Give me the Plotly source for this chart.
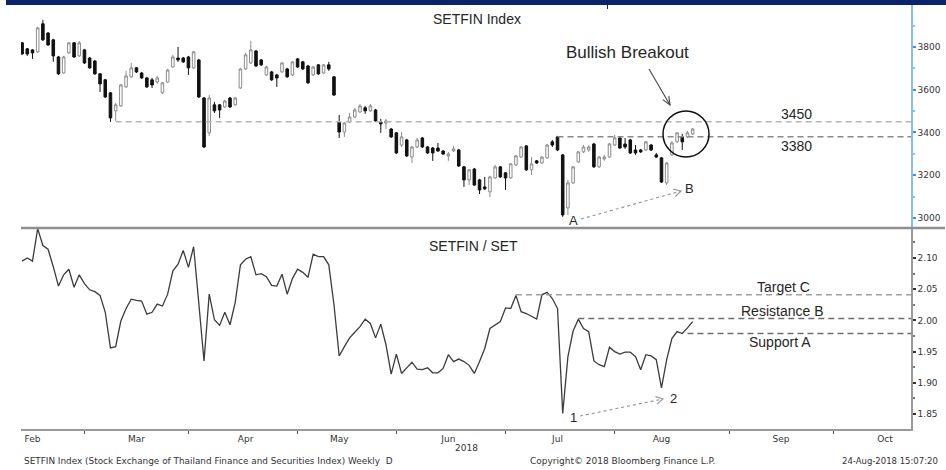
import math
import pandas as pd
import plotly.graph_objects as go

# ---------------- data ----------------
START = "2018-01-30"
HOLIDAYS = ["2018-03-01", "2018-04-06", "2018-04-13", "2018-04-16",
            "2018-05-01", "2018-05-29", "2018-07-27", "2018-07-30"]

OPEN = [3819, 3791, 3786, 3777, 3908, 3865, 3833, 3753, 3678, 3772,
        3819, 3758, 3786, 3748, 3734, 3674, 3646, 3585, 3501, 3524,
        3613, 3660, 3702, 3678, 3655, 3646, 3636, 3585, 3636, 3706,
        3748, 3748, 3753, 3702, 3739, 3561, 3398, 3529, 3529, 3519,
        3561, 3529, 3608, 3697, 3725, 3781, 3739, 3669, 3683, 3669,
        3683, 3697, 3669, 3744, 3730, 3711, 3669, 3716, 3678, 3716,
        3660, 3449, 3402, 3449, 3472, 3496, 3515, 3501, 3505, 3449,
        3444, 3416, 3398, 3341, 3365, 3285, 3332, 3374, 3332, 3327,
        3327, 3313, 3290, 3313, 3318, 3239, 3178, 3229, 3178, 3145,
        3122, 3187, 3239, 3211, 3187, 3248, 3285, 3337, 3225, 3267,
        3257, 3281, 3356, 3379, 3295, 3047, 3164, 3262, 3309, 3318,
        3346, 3239, 3276, 3285, 3341, 3374, 3346, 3365, 3318, 3318,
        3318, 3341, 3295, 3281, 3164, 3295, 3356, 3379, 3379, 3393]
HIGH = [3823, 3795, 3790, 3894, 3926, 3870, 3838, 3758, 3758, 3823,
        3823, 3828, 3791, 3753, 3739, 3678, 3650, 3589, 3538, 3627,
        3688, 3725, 3706, 3683, 3660, 3655, 3664, 3636, 3697, 3763,
        3800, 3753, 3758, 3781, 3744, 3566, 3575, 3543, 3533, 3552,
        3566, 3566, 3702, 3772, 3828, 3786, 3744, 3711, 3688, 3674,
        3730, 3702, 3734, 3748, 3734, 3716, 3711, 3720, 3720, 3730,
        3664, 3482, 3449, 3491, 3515, 3533, 3524, 3533, 3510, 3463,
        3463, 3421, 3402, 3402, 3370, 3337, 3374, 3379, 3337, 3332,
        3351, 3318, 3309, 3337, 3323, 3243, 3229, 3234, 3183, 3192,
        3197, 3248, 3243, 3215, 3257, 3295, 3337, 3341, 3285, 3271,
        3290, 3346, 3365, 3384, 3299, 3178, 3243, 3313, 3341, 3341,
        3351, 3290, 3295, 3351, 3388, 3379, 3374, 3370, 3341, 3323,
        3360, 3346, 3304, 3285, 3262, 3360, 3402, 3393, 3407, 3421]
LOW = [3763, 3758, 3744, 3772, 3828, 3805, 3730, 3669, 3674, 3767,
       3748, 3753, 3720, 3697, 3669, 3589, 3561, 3449, 3454, 3519,
       3608, 3655, 3678, 3650, 3608, 3608, 3627, 3580, 3632, 3702,
       3730, 3725, 3669, 3697, 3561, 3327, 3384, 3491, 3468, 3515,
       3515, 3524, 3603, 3692, 3720, 3706, 3711, 3664, 3641, 3613,
       3678, 3655, 3664, 3702, 3692, 3627, 3664, 3669, 3674, 3688,
       3571, 3374, 3379, 3444, 3468, 3491, 3487, 3496, 3449, 3398,
       3416, 3374, 3299, 3332, 3285, 3257, 3327, 3327, 3299, 3267,
       3309, 3295, 3267, 3309, 3239, 3145, 3154, 3150, 3112, 3131,
       3098, 3183, 3187, 3131, 3183, 3243, 3281, 3220, 3201, 3253,
       3253, 3276, 3332, 3313, 3005, 3014, 3159, 3257, 3304, 3309,
       3234, 3234, 3267, 3281, 3337, 3323, 3323, 3299, 3295, 3304,
       3313, 3313, 3281, 3164, 3154, 3290, 3351, 3318, 3374, 3388]
CLOSE = [3767, 3767, 3772, 3889, 3833, 3809, 3758, 3674, 3753, 3819,
         3753, 3819, 3725, 3702, 3674, 3627, 3566, 3468, 3529, 3622,
         3664, 3702, 3683, 3655, 3613, 3622, 3655, 3632, 3692, 3753,
         3739, 3730, 3702, 3777, 3566, 3332, 3561, 3501, 3505, 3547,
         3519, 3561, 3697, 3763, 3786, 3711, 3716, 3706, 3646, 3655,
         3725, 3660, 3730, 3706, 3697, 3632, 3706, 3674, 3716, 3697,
         3575, 3402, 3444, 3472, 3505, 3524, 3501, 3524, 3454, 3440,
         3454, 3379, 3304, 3379, 3290, 3332, 3365, 3332, 3304, 3304,
         3313, 3299, 3299, 3323, 3243, 3178, 3225, 3154, 3131, 3136,
         3192, 3239, 3192, 3187, 3253, 3290, 3332, 3225, 3253, 3257,
         3285, 3341, 3341, 3318, 3014, 3164, 3239, 3309, 3332, 3332,
         3239, 3285, 3285, 3346, 3374, 3327, 3332, 3304, 3304, 3309,
         3356, 3318, 3285, 3168, 3257, 3351, 3398, 3356, 3398, 3416]
RATIO = [2.095, 2.100, 2.095, 2.147, 2.120, 2.114, 2.086, 2.055, 2.073, 2.082,
         2.053, 2.073, 2.059, 2.049, 2.046, 2.040, 2.013, 1.956, 1.958, 1.999,
         2.019, 2.034, 2.032, 2.031, 2.010, 2.013, 2.026, 2.023, 2.042, 2.079,
         2.090, 2.112, 2.085, 2.118, 2.027, 1.935, 2.042, 2.001, 1.992, 2.013,
         1.993, 2.029, 2.089, 2.098, 2.102, 2.073, 2.075, 2.070, 2.056, 2.055,
         2.074, 2.042, 2.067, 2.082, 2.077, 2.069, 2.106, 2.102, 2.102, 2.089,
         2.025, 1.943, 1.958, 1.972, 1.981, 1.990, 2.002, 1.995, 1.972, 1.994,
         1.961, 1.914, 1.946, 1.915, 1.924, 1.933, 1.922, 1.921, 1.924, 1.916,
         1.916, 1.923, 1.945, 1.934, 1.938, 1.934, 1.928, 1.915, 1.934, 1.955,
         1.987, 1.993, 1.998, 2.020, 2.019, 2.040, 2.014, 2.011, 2.006, 2.002,
         2.041, 2.045, 2.035, 2.019, 1.851, 1.942, 1.983, 2.002, 1.987, 1.982,
         1.935, 1.929, 1.926, 1.957, 1.950, 1.946, 1.949, 1.949, 1.942, 1.921,
         1.945, 1.943, 1.937, 1.892, 1.937, 1.971, 1.982, 1.979, 1.988, 1.998]

PRICE_TICKS = [3000, 3200, 3400, 3600, 3800]
RATIO_TICKS = [1.85, 1.90, 1.95, 2.00, 2.05, 2.10]
MONTH_TICKS = ["2018-02-01", "2018-03-02", "2018-04-02", "2018-05-02", "2018-06-01",
               "2018-07-02", "2018-08-01", "2018-09-03", "2018-10-01"]
MONTH_LABELS = ["Feb", "Mar", "Apr", "May", "Jun", "Jul", "Aug", "Sep", "Oct"]
MID_TICKS = ["2018-02-15", "2018-03-16", "2018-04-19", "2018-05-17", "2018-06-18",
             "2018-07-17", "2018-08-20", "2018-09-17"]

# level lines: (value, index of starting bar, label)
PRICE_LEVELS = [(3450, 18, "3450"), (3380, 103, "3380")]
RATIO_LEVELS = [(2.041, 95, "Target C"), (2.003, 107, "Resistance B"), (1.979, 128, "Support A")]

# trading dates (weekdays without Thai holidays), plotted at midday
bd = pd.bdate_range(START, "2018-08-31")
bd = [d for d in bd if d.strftime("%Y-%m-%d") not in HOLIDAYS]
DATES = [(d + pd.Timedelta(hours=12)).strftime("%Y-%m-%d %H:%M") for d in bd[:len(CLOSE)]]

XRANGE = ["2018-01-30 07:00", "2018-10-08 12:00"]

# ---------------- geometry helpers (pixel -> paper) ----------------
L, R, T, B = 21, 35, 5, 41
W, H = 946, 470
PW, PH = W - L - R, H - T - B
SPLIT = (H - B - 228) / PH


def px(x):
    return (x - L) / PW


def py(y):
    return (H - B - y) / PH


fig = go.Figure()
fig.add_trace(go.Candlestick(
    x=DATES, open=OPEN, high=HIGH, low=LOW, close=CLOSE,
    increasing=dict(line=dict(color="#8c8c8c", width=1), fillcolor="white"),
    decreasing=dict(line=dict(color="#111111", width=1), fillcolor="#111111"),
    whiskerwidth=0, xaxis="x", yaxis="y", showlegend=False, hoverinfo="skip"))
fig.add_trace(go.Scatter(
    x=DATES, y=RATIO, mode="lines", line=dict(color="#3c3c3c", width=1.3),
    xaxis="x2", yaxis="y2", showlegend=False, hoverinfo="skip"))

shapes = []
annots = []

# level lines
for (v, i0, lab), col in zip(PRICE_LEVELS, ["#b5b5b5", "#8a8a8a"]):
    shapes.append(dict(type="line", xref="x", yref="y", x0=DATES[i0], x1=XRANGE[1],
                       y0=v, y1=v, line=dict(color=col, width=1.5, dash="6px,4px")))
for (v, i0, lab), col in zip(RATIO_LEVELS, ["#a0a0a0", "#6e6e6e", "#6e6e6e"]):
    shapes.append(dict(type="line", xref="x2", yref="y2", x0=DATES[i0], x1=XRANGE[1],
                       y0=v, y1=v, line=dict(color=col, width=1.5, dash="6px,4px")))


def arrow(x0, y0, x1, y1, color, dash, width, head=8, spread=0.5):
    shapes.append(dict(type="line", xref="paper", yref="paper",
                       x0=px(x0), y0=py(y0), x1=px(x1), y1=py(y1),
                       line=dict(color=color, width=width, dash=dash)))
    ang = math.atan2(y1 - y0, x1 - x0)
    pts = []
    for s in (1, -1):
        a = ang + math.pi + s * spread
        pts.append((x1 + head * math.cos(a), y1 + head * math.sin(a)))
    path = "M {:.4f},{:.4f} L {:.4f},{:.4f} L {:.4f},{:.4f}".format(
        px(pts[0][0]), py(pts[0][1]), px(x1), py(y1), px(pts[1][0]), py(pts[1][1]))
    shapes.append(dict(type="path", xref="paper", yref="paper", path=path,
                       line=dict(color=color, width=width)))


arrow(581, 219, 681, 191, "#9a9a9a", "dot", 1.2)
arrow(580, 416, 663, 399, "#9a9a9a", "dot", 1.2)
arrow(649, 69, 670, 105, "#444444", "solid", 1.1, head=9, spread=0.4)

# breakout circle
shapes.append(dict(type="circle", xref="paper", yref="paper",
                   x0=px(663), x1=px(709), y0=py(157), y1=py(111),
                   line=dict(color="#111111", width=1.5)))

# separator, top bar, small mark
shapes.append(dict(type="line", xref="paper", yref="paper", x0=0, x1=px(945),
                   y0=SPLIT, y1=SPLIT, line=dict(color="#8f8f8f", width=2.5)))
shapes.append(dict(type="rect", xref="paper", yref="paper", x0=px(6), x1=px(946),
                   y0=py(5), y1=py(0), fillcolor="#0c2466", line=dict(width=0)))
shapes.append(dict(type="line", xref="paper", yref="paper", x0=px(607.5), x1=px(607.5),
                   y0=py(9), y1=py(4), line=dict(color="#0c2466", width=1)))


def text(x, y, s, size=14, anchor="center", family="Liberation Sans", color="#262626"):
    annots.append(dict(xref="paper", yref="paper", x=px(x), y=py(y), text=s,
                       showarrow=False, xanchor=anchor, yanchor="middle",
                       font=dict(family=family, size=size, color=color)))


text(477, 19, "SETFIN Index", 14)
text(627, 53, "Bullish Breakout", 17)
text(796, 114, PRICE_LEVELS[0][2], 14)
text(796, 146, PRICE_LEVELS[1][2], 14)
text(573, 220, "A", 13)
text(689, 188, "B", 13)
text(473, 246, "SETFIN / SET", 14)
text(783, 287, RATIO_LEVELS[0][2], 14)
text(782, 311, RATIO_LEVELS[1][2], 14)
text(780, 342, RATIO_LEVELS[2][2], 14)
text(573, 417, "1", 13)
text(673, 398, "2", 13)
text(466, 448, "2018", 9, family="DejaVu Sans", color="#333333")
text(22, 461, "SETFIN Index (Stock Exchange of Thailand Finance and Securities Index) Weekly\u00a0\u00a0D",
     8.9, anchor="left", family="DejaVu Sans", color="#333333")
text(528, 461, "Copyright\u00a9 2018 Bloomberg Finance L.P.", 9, anchor="left",
     family="DejaVu Sans", color="#333333")
text(940, 461, "24-Aug-2018 15:07:20", 8.5, anchor="right", family="DejaVu Sans", color="#333333")

breaks = [dict(bounds=["sat", "mon"]), dict(values=HOLIDAYS)]
tickfont = dict(family="DejaVu Sans", size=9, color="#333333")

fig.update_layout(
    width=W, height=H, margin=dict(l=L, r=R, t=T, b=B),
    paper_bgcolor="white", plot_bgcolor="white", showlegend=False,
    shapes=shapes, annotations=annots,
    xaxis=dict(domain=[0, 1], anchor="y", range=XRANGE, rangebreaks=breaks,
               showticklabels=False, ticks="", showgrid=False, zeroline=False,
               showline=False, rangeslider=dict(visible=False)),
    xaxis2=dict(domain=[0, 1], anchor="y2", range=XRANGE, rangebreaks=breaks,
                tickmode="array",
                tickvals=[d + " 12:00" for d in MONTH_TICKS], ticktext=MONTH_LABELS,
                ticks="", showgrid=False, zeroline=False, tickfont=tickfont,
                showline=True, linecolor="#9a9a9a", linewidth=2,
                minor=dict(tickmode="array", tickvals=[d + " 12:00" for d in MID_TICKS],
                           ticks="outside", ticklen=3, tickcolor="#555555", showgrid=False)),
    yaxis=dict(domain=[SPLIT, 1], anchor="x", side="right", range=[2953, 3996],
               tickmode="array", tickvals=PRICE_TICKS, ticks="outside", ticklen=3,
               tickcolor="#3d8fe0", tickwidth=1.5, showline=True, linecolor="#86c0f0",
               linewidth=1.5, showgrid=False, zeroline=False, tickfont=tickfont,
               minor=dict(tickmode="array", tickvals=[3100, 3300, 3500, 3700, 3900],
                          ticks="outside", ticklen=2, tickcolor="#86c0f0", showgrid=False)),
    yaxis2=dict(domain=[0, SPLIT], anchor="x2", side="right", range=[1.826, 2.148],
                tickmode="array", tickvals=RATIO_TICKS,
                ticktext=["{:.2f}".format(v) for v in RATIO_TICKS],
                ticks="outside", ticklen=3, tickcolor="#333333", tickwidth=1.5,
                showline=True, linecolor="#9a9a9a", linewidth=1.5, showgrid=False,
                zeroline=False, tickfont=tickfont,
                minor=dict(tickmode="array",
                           tickvals=[1.875, 1.925, 1.975, 2.025, 2.075, 2.125],
                           ticks="outside", ticklen=2, tickcolor="#777777", showgrid=False)),
)

fig.write_html("out.html", config={"displayModeBar": False},
               post_script="document.body.style.margin='0';")
